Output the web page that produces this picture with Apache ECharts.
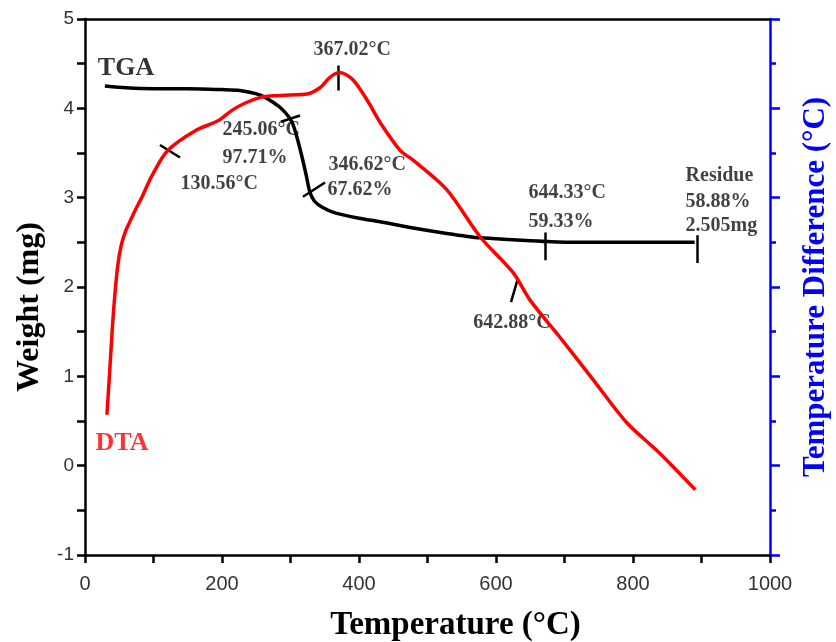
<!DOCTYPE html>
<html>
<head>
<meta charset="utf-8">
<script src="https://cdn.jsdelivr.net/npm/echarts@6/dist/echarts.min.js"></script>
<style>html,body{margin:0;padding:0;background:#fff}#c{width:836px;height:642px}</style>
</head>
<body>
<div id="c"></div>
<script>
// TGA curve (temperature °C, weight mg)
const tgaTemp   = [29, 60, 100, 150, 200, 226, 255, 274, 289, 302, 310, 317, 323, 328, 335, 347, 365, 400, 431, 479, 528, 577, 625, 674, 723, 800, 890];
const tgaWeight = [4.25, 4.23, 4.22, 4.22, 4.21, 4.20, 4.15, 4.07, 3.98, 3.85, 3.66, 3.45, 3.25, 3.07, 2.96, 2.89, 2.83, 2.77, 2.73, 2.66, 2.60, 2.55, 2.53, 2.51, 2.50, 2.50, 2.50];
// DTA curve (temperature °C, value on right axis)
const dtaTemp  = [32, 36, 40, 44, 48, 53, 59, 66, 74, 84, 98, 121, 161, 194, 215, 234, 255, 274, 300, 324, 343, 358, 372, 391, 412, 431, 460, 479, 528, 577, 625, 650, 693, 742, 791, 839, 891];
const dtaValue = [0.57, 1.05, 1.55, 1.95, 2.25, 2.47, 2.62, 2.74, 2.87, 3.02, 3.25, 3.53, 3.75, 3.86, 3.98, 4.06, 4.12, 4.14, 4.15, 4.16, 4.23, 4.35, 4.40, 4.32, 4.09, 3.84, 3.53, 3.42, 3.09, 2.56, 2.16, 1.85, 1.44, 0.96, 0.48, 0.14, -0.27];
// short marker strokes [t1, v1, t2, v2]
const markerSegments = [
  [109.5, 3.59, 138.7, 3.45],
  [286, 3.85, 313.9, 3.92],
  [318.2, 3.01, 350.4, 3.17],
  [369.3, 4.48, 369.3, 4.20],
  [671.5, 2.61, 671.5, 2.30],
  [893.4, 2.58, 893.4, 2.27],
  [632.1, 2.10, 621.9, 1.83]
];
// annotation texts [t, v, text]
const annotations = [
  [333, 4.66, '367.02°C'],
  [200, 3.76, '245.06°C'],
  [200, 3.45, '97.71%'],
  [138.7, 3.16, '130.56°C'],
  [354.7, 3.37, '346.62°C'],
  [353.3, 3.09, '67.62%'],
  [646.7, 3.05, '644.33°C'],
  [646.7, 2.73, '59.33%'],
  [876, 3.25, 'Residue'],
  [876, 2.95, '58.88%'],
  [876, 2.69, '2.505mg'],
  [566, 1.60, '642.88°C']
];
const curveLabels = [[18, 4.45, 'TGA'], [14.6, 0.25, 'DTA']];
const curveLabelColors = ['#000', '#ff0000'];
const xTicks = [0, 200, 400, 600, 800, 1000];
const yTicks = [-1, 0, 1, 2, 3, 4, 5];

const chart = echarts.init(document.getElementById('c'), null, {renderer: 'canvas'});
const serif = "'Liberation Serif', 'Times New Roman', serif";
const sans = "'Liberation Sans', Arial, sans-serif";

const option = {
  animation: false,
  grid: {left: 85, right: 66, top: 19, bottom: 87, containLabel: false, outerBoundsMode: 'none'},
  xAxis: [{
    type: 'value', min: xTicks[0], max: xTicks[xTicks.length - 1], interval: 200,
    name: 'Temperature (°C)', nameLocation: 'middle', nameGap: 54,
    nameTextStyle: {fontFamily: serif, fontWeight: 'bold', fontSize: 33, color: '#000', padding: [0, 0, 0, 56]},
    axisLine: {show: true, onZero: false, lineStyle: {color: '#000', width: 2.5}},
    axisTick: {show: true, inside: false, length: 8, lineStyle: {color: '#000', width: 2.5}},
    minorTick: {show: true, splitNumber: 2, length: 8, lineStyle: {color: '#000', width: 2.5}},
    axisLabel: {fontFamily: sans, fontSize: 20, color: '#333', margin: 19, formatter: v => String(v)},
    splitLine: {show: false}
  }, {
    type: 'value', position: 'top', min: 0, max: 1000,
    axisLine: {show: true, onZero: false, lineStyle: {color: '#000', width: 2.5}},
    axisTick: {show: false}, axisLabel: {show: false}, splitLine: {show: false}
  }],
  yAxis: [{
    type: 'value', min: yTicks[0], max: yTicks[yTicks.length - 1], interval: 1, position: 'left',
    name: 'Weight (mg)', nameLocation: 'middle', nameGap: 39, nameRotate: 90,
    nameTextStyle: {fontFamily: serif, fontWeight: 'bold', fontSize: 32, color: '#000', padding: [0, 40, 0, 0]},
    axisLine: {show: true, onZero: false, lineStyle: {color: '#000', width: 2.5}},
    axisTick: {show: true, inside: false, length: 8, lineStyle: {color: '#000', width: 2.5}},
    minorTick: {show: true, splitNumber: 2, length: 8, lineStyle: {color: '#000', width: 2.5}},
    axisLabel: {fontFamily: sans, fontSize: 19, color: '#333', margin: 11},
    splitLine: {show: false}
  }, {
    type: 'value', min: -1, max: 5, interval: 1, position: 'right',
    name: 'Temperature Difference (°C)', nameLocation: 'middle', nameGap: 30, nameRotate: 90,
    nameTextStyle: {fontFamily: serif, fontWeight: 'bold', fontSize: 31, color: '#0000ff'},
    axisLine: {show: true, onZero: false, lineStyle: {color: '#0000ff', width: 2.5}},
    axisTick: {show: true, inside: false, length: 10, lineStyle: {color: '#0000ff', width: 2.5}},
    minorTick: {show: true, splitNumber: 2, length: 6, lineStyle: {color: '#0000ff', width: 2.5}},
    axisLabel: {show: false},
    splitLine: {show: false}
  }],
  series: [
    {
      type: 'line', name: 'TGA', xAxisIndex: 0, yAxisIndex: 0, smooth: 0.25, symbol: 'none',
      lineStyle: {color: '#000', width: 3.5},
      data: tgaTemp.map((t, i) => [t, tgaWeight[i]])
    },
    {
      type: 'line', name: 'DTA', xAxisIndex: 0, yAxisIndex: 1, smooth: 0.3, symbol: 'none',
      lineStyle: {color: '#ff0000', width: 3.5},
      data: dtaTemp.map((t, i) => [t, dtaValue[i]])
    },
    {
      type: 'lines', coordinateSystem: 'cartesian2d', xAxisIndex: 0, yAxisIndex: 0,
      lineStyle: {color: '#000', width: 2.5, opacity: 1},
      data: markerSegments.map(s => ({coords: [[s[0], s[1]], [s[2], s[3]]]}))
    },
    {
      type: 'scatter', xAxisIndex: 0, yAxisIndex: 0, symbolSize: 1,
      itemStyle: {color: 'rgba(0,0,0,0)'},
      label: {show: true, position: 'right', distance: 0, formatter: p => p.value[2],
        fontFamily: serif, fontWeight: 'bold', fontSize: 20, color: '#111'},
      data: annotations.map(a => ({value: a}))
    },
    {
      type: 'scatter', xAxisIndex: 0, yAxisIndex: 0, symbolSize: 1,
      itemStyle: {color: 'rgba(0,0,0,0)'},
      label: {show: true, position: 'right', distance: 0, formatter: p => p.value[2],
        fontFamily: serif, fontWeight: 'bold', fontSize: 26},
      data: curveLabels.map((c, i) => ({value: c, label: {color: curveLabelColors[i]}}))
    }
  ]
};
chart.setOption(option);
</script>
</body>
</html>
